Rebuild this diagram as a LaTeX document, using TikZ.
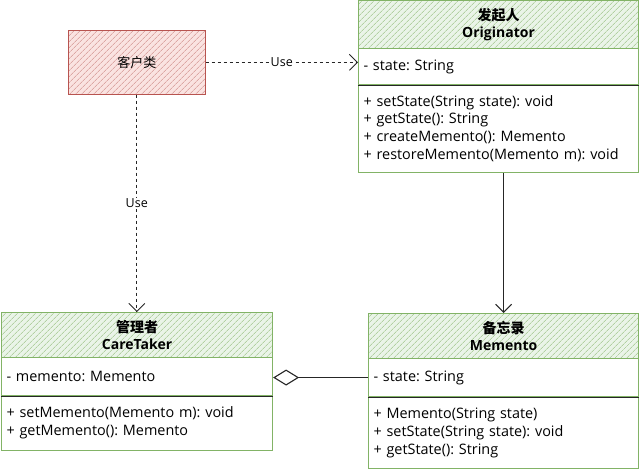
\documentclass[tikz,border=0pt]{standalone}
\usepackage{fontspec}
\setmainfont{Open Sans}
\newfontfamily\cjk{Noto Sans CJK SC}
\usetikzlibrary{patterns.meta,arrows.meta}
\definecolor{gline}{HTML}{82B366}
\definecolor{gfill}{HTML}{EAF4E8}
\definecolor{rline}{HTML}{B85450}
\definecolor{rfill}{HTML}{FAE3E1}
\tikzset{
  hdr/.style={draw=gline, line width=1.1pt, preaction={fill=gfill},
    pattern={Lines[angle=45,distance=4pt,line width=0.55pt]}, pattern color=gline!85,
    anchor=north west, align=center, inner sep=0pt, font=\bfseries\fontsize{14}{16.5}\selectfont},
  comp/.style={draw=gline, line width=1.1pt, fill=white, anchor=north west, align=left,
    inner xsep=5pt, inner ysep=0pt, font=\fontsize{14.4}{17.9}\selectfont},
  sep/.style={draw=black!85, line width=1.1pt},
  client/.style={draw=rline, line width=1.1pt, preaction={fill=rfill},
    pattern={Lines[angle=45,distance=4pt,line width=0.55pt]}, pattern color=rline!70,
    anchor=north west, inner sep=0pt, font=\fontsize{13}{15}\selectfont},
  use/.style={draw=black!85, line width=0.9pt, dash pattern=on 3pt off 3pt,
    -{Straight Barb[length=8pt,width=16pt,line width=0.9pt]}},
  lbl/.style={fill=white, inner sep=1pt, font=\fontsize{12.5}{14}\selectfont},
}
\begin{document}
\frenchspacing
\begin{tikzpicture}[x=1pt,y=-1pt]
\useasboundingbox (0,0) rectangle (640,471);

% client
\node[client, minimum width=137pt, minimum height=64pt] (cl) at (68,30) {\cjk 客户类};

% Originator
\node[hdr, minimum width=280pt, minimum height=48pt] (oh) at (358,0) {{\cjk\bfseries 发起人}\\Originator};
\node[comp, text width=270pt, minimum height=36pt] (oa) at (358,48) {- state: String};
\node[comp, text width=270pt, minimum height=88pt] (om) at (358,84) {+ setState(String state): void\\+ getState(): String\\+ createMemento(): Memento\\+ restoreMemento(Memento m): void};
\draw[sep] (oa.south west) -- (oa.south east);

% CareTaker
\node[hdr, minimum width=271pt, minimum height=45pt] (ch) at (1,312) {{\cjk\bfseries 管理者}\\CareTaker};
\node[comp, text width=261pt, minimum height=38pt] (ca) at (1,357) {- memento: Memento};
\node[comp, text width=261pt, minimum height=55pt] (cm) at (1,395) {+ setMemento(Memento m): void\\+ getMemento(): Memento};
\draw[sep] (ca.south west) -- (ca.south east);

% Memento
\node[hdr, minimum width=270pt, minimum height=45pt] (mh) at (368,313) {{\cjk\bfseries 备忘录}\\Memento};
\node[comp, text width=260pt, minimum height=38pt] (ma) at (368,358) {- state: String};
\node[comp, text width=260pt, minimum height=72pt] (mm) at (368,396) {+ Memento(String state)\\+ setState(String state): void\\+ getState(): String};
\draw[sep] (ma.south west) -- (ma.south east);

% connectors
\draw[use] (cl.east) -- node[lbl] {Use} (cl.east -| oa.west);
\draw[use] (cl.south) -- node[lbl] {Use} (cl.south |- ch.north);
\draw[draw=black!85, line width=1.1pt, -{Straight Barb[length=8pt,width=16pt,line width=1.1pt]}] (om.south -| mh.north) -- (mh.north);
\draw[draw=black!85, line width=1.1pt, -{Diamond[open,length=26pt,width=16pt,line width=1.1pt]}] (ma.west) -- (ma.west -| ca.east);
\end{tikzpicture}
\end{document}
